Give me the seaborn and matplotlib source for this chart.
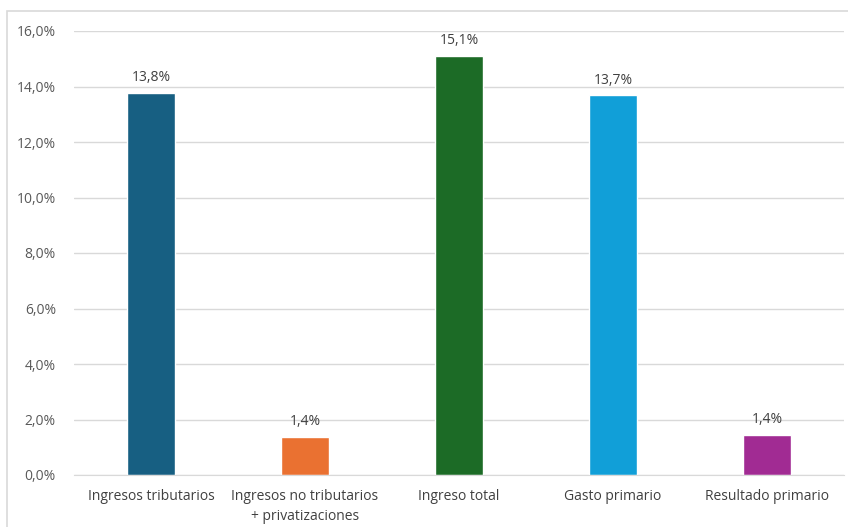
import numpy as np
import pandas as pd
import matplotlib.pyplot as plt
import seaborn as sns

# Datos (% del PIB)
categorias = ["Ingresos tributarios", "Ingresos no tributarios\n+ privatizaciones",
              "Ingreso total", "Gasto primario", "Resultado primario"]
valores = [13.77, 1.37, 15.10, 13.68, 1.44]
colores = ["#175f82", "#ea7131", "#1c6b26", "#119fd8", "#a12b93"]
yticks = [0, 2, 4, 6, 8, 10, 12, 14, 16]

sns.set_style("white")
plt.rcParams['font.family'] = ['Open Sans', 'DejaVu Sans']

df = pd.DataFrame({"categoria": categorias, "valor": valores})

fig = plt.figure(figsize=(8.48, 5.27), dpi=100)
ax = fig.add_axes([74 / 848, 1 - 475 / 527, 770 / 848, 444 / 527])

sns.barplot(data=df, x="categoria", y="valor", hue="categoria", palette=colores,
            width=0.31, legend=False, ax=ax, saturation=1)

for p, v in zip(ax.patches, valores):
    ax.text(p.get_x() + p.get_width() / 2, v + 0.28, f"{v:.1f}%".replace(".", ","),
            ha="center", va="bottom", fontsize=10, color="#404040")

ax.set_ylim(0, 16)
ax.set_yticks(yticks)
ax.set_yticklabels([f"{t:.1f}%".replace(".", ",") for t in yticks], fontsize=10, color="#595959")
ax.tick_params(axis="x", labelsize=10, labelcolor="#404040", length=0, pad=10)
for lbl in ax.get_xticklabels():
    lbl.set_linespacing(1.5)
ax.tick_params(axis="y", length=0, pad=13)
ax.set_xlabel("")
ax.set_ylabel("")
ax.grid(axis="y", color="#d9d9d9", linewidth=1)
ax.set_axisbelow(True)
for s in ["top", "right", "left"]:
    ax.spines[s].set_visible(False)
ax.spines["bottom"].set_color("#d9d9d9")

# marco del gráfico
fig.patches.append(plt.Rectangle((7 / 848, -0.1), 1.2, 1 - 11 / 527 + 0.1,
                                 transform=fig.transFigure, fill=False,
                                 edgecolor="#d9d9d9", linewidth=1.2))

fig.savefig("out.png", dpi=100)
